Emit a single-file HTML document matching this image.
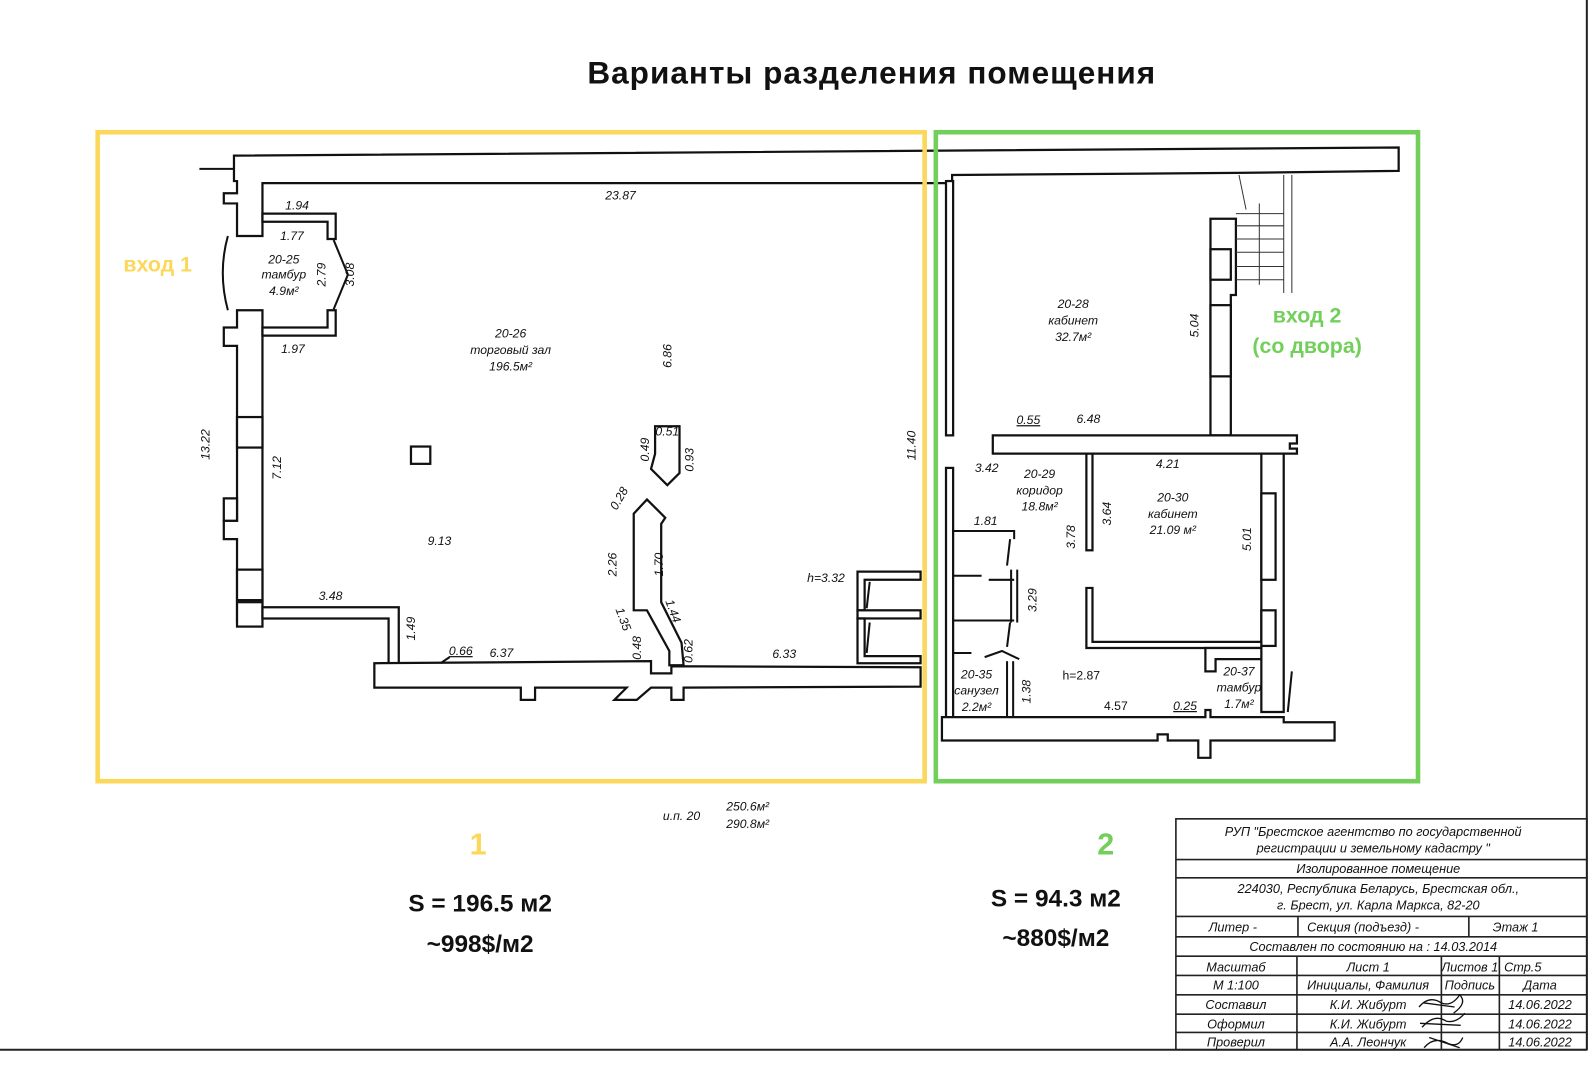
<!DOCTYPE html>
<html><head><meta charset="utf-8"><style>
html,body{margin:0;padding:0;background:#fff;}
svg{display:block;}
.d{font-family:"Liberation Sans",sans-serif;font-style:italic;font-size:12px;fill:#111;}
.w{fill:#fff;stroke:#111;stroke-width:2.2;stroke-linejoin:miter;}
.l{fill:none;stroke:#111;stroke-width:2;}
.t{font-family:"Liberation Sans",sans-serif;font-style:italic;font-size:12.5px;fill:#111;}
</style></head><body>
<svg width="1595" height="1065" viewBox="0 0 1568 1047" xmlns="http://www.w3.org/2000/svg">
<rect width="1568" height="1047" fill="#fff"/>
<line x1="0" y1="1032" x2="1560" y2="1032" stroke="#222" stroke-width="2"/>
<line x1="1560" y1="0" x2="1560" y2="1032" stroke="#222" stroke-width="2"/>

<text x="857" y="82" text-anchor="middle" font-family="Liberation Sans,sans-serif" font-weight="bold" font-size="31" letter-spacing="1" fill="#111">Варианты разделения помещения</text>

<polygon class="w" points="230,153 1375,145 1375,168 1215,170 936,172 936,180 258,180 258,232 233,232 233,200 220,200 220,190 233,190 233,178 230,178"/>
<line class="l" x1="196" y1="166" x2="230" y2="166"/>
<polygon class="w" points="233,305 258,305 258,608 233,608 233,612 233,530 220,530 220,512 233,512 233,340 220,340 220,322 233,322"/>
<polygon class="w" points="233,490 220,490 220,512 233,512"/>
<rect class="w" x="233" y="410" width="25" height="30"/>
<rect class="w" x="233" y="560" width="25" height="30"/>
<rect class="w" x="233" y="592" width="25" height="24"/>
<path class="l" d="M224,232 Q214,268 224,305" stroke-width="1.5"/>
<polygon class="w" points="258,210 330,210 330,235 322,235 322,218 258,218"/>
<polygon class="w" points="258,322 322,322 322,305 330,305 330,330 258,330"/>
<path class="l" d="M328,236 L342,270 L328,304" stroke-width="1.5"/>
<polygon class="w" points="258,597 392,597 392,652 382,652 382,608 258,608"/>
<polygon class="w" points="368,652 640,650 640,662 660,662 660,655 905,656 905,675 672,676 672,688 660,688 660,676 640,676 626,688 604,688 616,676 526,676 526,688 512,688 512,676 368,676"/>
<rect class="w" x="404" y="439" width="19" height="17"/>
<polygon class="w" points="644,419 668,419 668,465 656,477 640,461 644,446"/>
<polygon class="w" points="623,505 636,491 654,509 650,515 650,592 670,632 672,654 658,654 658,640 636,600 634,600 623,600"/>
<polygon class="w" points="843,562 905,562 905,570 850,570 850,600 843,600"/>
<rect class="w" x="843" y="600" width="62" height="8"/>
<polygon class="w" points="843,608 850,608 850,645 905,645 905,652 843,652"/>
<line class="l" x1="855" y1="572" x2="852" y2="598" stroke-width="1.3"/>
<line class="l" x1="855" y1="612" x2="852" y2="642" stroke-width="1.3"/>

<rect class="w" x="930" y="178" width="7" height="250"/>
<rect class="w" x="930" y="460" width="7" height="245"/>
<polygon class="w" points="1190,215 1215,215 1215,290 1210,290 1210,428 1190,428"/>
<rect class="w" x="1190" y="245" width="20" height="30"/>
<rect class="w" x="1190" y="300" width="20" height="70"/>
<g stroke="#333" stroke-width="1" fill="none">
<line x1="1215" y1="210" x2="1262" y2="210"/><line x1="1215" y1="222" x2="1262" y2="222"/>
<line x1="1215" y1="235" x2="1262" y2="235"/><line x1="1215" y1="248" x2="1262" y2="248"/>
<line x1="1215" y1="262" x2="1262" y2="262"/><line x1="1215" y1="275" x2="1262" y2="275"/>
<line x1="1262" y1="172" x2="1262" y2="288"/><line x1="1270" y1="172" x2="1270" y2="288"/>
<line x1="1238" y1="200" x2="1238" y2="280"/>
<line x1="1218" y1="172" x2="1225" y2="206"/>
</g>
<polygon class="w" points="976,428 1275,428 1275,436 1268,436 1268,441 1275,441 1275,446 976,446"/>
<polygon class="w" points="1240,446 1262,446 1262,700 1240,700"/>
<rect class="w" x="1240" y="485" width="14" height="85"/>
<rect class="w" x="1240" y="600" width="14" height="35"/>
<rect class="w" x="1068" y="446" width="6" height="95"/>
<polygon class="w" points="1068,578 1074,578 1074,631 1240,631 1240,637 1068,637"/>
<polygon class="w" points="1185,637 1240,637 1240,648 1195,648 1195,660 1185,660"/>
<g class="l" stroke-width="1.6">
<polyline points="936,522 997,522 997,530"/>
<polyline points="936,566 965,566"/><polyline points="972,570 997,570"/>
<polyline points="936,610 997,610"/>
<polyline points="936,642 955,642"/>
<line x1="1000" y1="560" x2="1000" y2="612"/><line x1="994" y1="560" x2="994" y2="612"/>
<line x1="993" y1="530" x2="990" y2="556"/>
<line x1="993" y1="612" x2="990" y2="636"/>
<polyline points="968,646 985,640 1002,648"/>
<line x1="990" y1="650" x2="990" y2="705"/><line x1="996" y1="650" x2="996" y2="705"/>
</g>
<polygon class="w" points="926,705 1185,705 1185,698 1190,698 1190,705 1262,705 1262,710 1312,710 1312,728 1190,728 1190,745 1178,745 1178,728 1148,728 1148,722 1138,722 1138,728 926,728"/>
<line class="l" x1="1270" y1="660" x2="1266" y2="700" stroke-width="1.5"/>

<text class="d" x="610" y="196" text-anchor="middle">23.87</text>
<text class="d" x="292" y="206" text-anchor="middle">1.94</text>
<text class="d" x="287" y="236" text-anchor="middle">1.77</text>
<text class="d" x="279" y="259" text-anchor="middle">20-25</text>
<text class="d" x="279" y="274" text-anchor="middle">тамбур</text>
<text class="d" x="279" y="290" text-anchor="middle">4.9м²</text>
<text class="d" transform="translate(320,270) rotate(-90)" text-anchor="middle">2.79</text>
<text class="d" transform="translate(348,270) rotate(-90)" text-anchor="middle">3.08</text>
<text class="d" x="288" y="347" text-anchor="middle">1.97</text>
<text class="d" x="502" y="332" text-anchor="middle">20-26</text>
<text class="d" x="502" y="348" text-anchor="middle">торговый зал</text>
<text class="d" x="502" y="364" text-anchor="middle">196.5м²</text>
<text class="d" transform="translate(660,350) rotate(-90)" text-anchor="middle">6.86</text>
<text class="d" transform="translate(206,437) rotate(-90)" text-anchor="middle">13.22</text>
<text class="d" transform="translate(276,460) rotate(-90)" text-anchor="middle">7.12</text>
<text class="d" x="656" y="428" text-anchor="middle">0.51</text>
<text class="d" transform="translate(638,442) rotate(-90)" text-anchor="middle">0.49</text>
<text class="d" transform="translate(682,452) rotate(-90)" text-anchor="middle">0.93</text>
<text class="d" transform="translate(612,492) rotate(-60)" text-anchor="middle">0.28</text>
<text class="d" x="432" y="536" text-anchor="middle">9.13</text>
<text class="d" transform="translate(606,555) rotate(-90)" text-anchor="middle">2.26</text>
<text class="d" transform="translate(652,555) rotate(-90)" text-anchor="middle">1.70</text>
<text class="d" transform="translate(609,610) rotate(70)" text-anchor="middle">1.35</text>
<text class="d" transform="translate(658,602) rotate(70)" text-anchor="middle">1.44</text>
<text class="d" transform="translate(630,637) rotate(-90)" text-anchor="middle">0.48</text>
<text class="d" transform="translate(681,640) rotate(-90)" text-anchor="middle">0.62</text>
<text class="d" x="325" y="590" text-anchor="middle">3.48</text>
<text class="d" transform="translate(408,618) rotate(-90)" text-anchor="middle">1.49</text>
<text class="d" x="453" y="644" text-anchor="middle" text-decoration="underline">0.66</text>
<line class="l" x1="433" y1="652" x2="442" y2="646" stroke-width="1"/>
<text class="d" x="493" y="646" text-anchor="middle">6.37</text>
<text class="d" x="771" y="647" text-anchor="middle">6.33</text>
<text class="d" x="812" y="572" text-anchor="middle">h=3.32</text>
<text class="d" transform="translate(900,438) rotate(-90)" text-anchor="middle">11.40</text>

<text class="d" x="1055" y="303" text-anchor="middle">20-28</text>
<text class="d" x="1055" y="319" text-anchor="middle">кабинет</text>
<text class="d" x="1055" y="335" text-anchor="middle">32.7м²</text>
<text class="d" transform="translate(1178,320) rotate(-90)" text-anchor="middle">5.04</text>
<text class="d" x="1011" y="417" text-anchor="middle" text-decoration="underline">0.55</text>
<text class="d" x="1070" y="416" text-anchor="middle">6.48</text>
<text class="d" x="970" y="464" text-anchor="middle">3.42</text>
<text class="d" x="1022" y="470" text-anchor="middle">20-29</text>
<text class="d" x="1022" y="486" text-anchor="middle">коридор</text>
<text class="d" x="1022" y="502" text-anchor="middle">18.8м²</text>
<text class="d" x="1148" y="460" text-anchor="middle">4.21</text>
<text class="d" x="1153" y="493" text-anchor="middle">20-30</text>
<text class="d" x="1153" y="509" text-anchor="middle">кабинет</text>
<text class="d" x="1153" y="525" text-anchor="middle" font-style="normal" font-size="11">21.09 м²</text>
<text class="d" transform="translate(1092,505) rotate(-90)" text-anchor="middle">3.64</text>
<text class="d" transform="translate(1057,528) rotate(-90)" text-anchor="middle">3.78</text>
<text class="d" transform="translate(1230,530) rotate(-90)" text-anchor="middle">5.01</text>
<text class="d" x="969" y="516" text-anchor="middle">1.81</text>
<text class="d" transform="translate(1019,590) rotate(-90)" text-anchor="middle">3.29</text>
<text class="d" x="960" y="667" text-anchor="middle">20-35</text>
<text class="d" x="960" y="683" text-anchor="middle">санузел</text>
<text class="d" x="960" y="699" text-anchor="middle">2.2м²</text>
<text class="d" transform="translate(1013,680) rotate(-90)" text-anchor="middle">1.38</text>
<text x="1063" y="668" text-anchor="middle" font-family="Liberation Sans,sans-serif" font-size="12" fill="#111">h=2.87</text>
<text x="1097" y="698" text-anchor="middle" font-family="Liberation Sans,sans-serif" font-size="12" fill="#111">4.57</text>
<text class="d" x="1165" y="698" text-anchor="middle" text-decoration="underline">0.25</text>
<text class="d" x="1218" y="664" text-anchor="middle">20-37</text>
<text class="d" x="1218" y="680" text-anchor="middle">тамбур</text>
<text class="d" x="1218" y="696" text-anchor="middle">1.7м²</text>

<text class="d" x="670" y="806" text-anchor="middle">и.п. 20</text>
<text class="d" x="735" y="797" text-anchor="middle">250.6м²</text>
<text class="d" x="735" y="814" text-anchor="middle">290.8м²</text>

<rect x="96" y="130" width="813" height="638" fill="none" stroke="#fbd85a" stroke-width="4.5"/>
<rect x="920" y="130" width="474" height="638" fill="none" stroke="#72cf5a" stroke-width="4.5"/>

<g font-family="Liberation Sans,sans-serif" font-weight="bold">
<text x="155" y="267" text-anchor="middle" font-size="21" fill="#fbd85a">вход 1</text>
<text x="1285" y="317" text-anchor="middle" font-size="21" fill="#72cf5a">вход 2</text>
<text x="1285" y="347" text-anchor="middle" font-size="21" fill="#72cf5a">(со двора)</text>
<text x="470" y="840" text-anchor="middle" font-size="30" fill="#fbd85a">1</text>
<text x="1087" y="840" text-anchor="middle" font-size="30" fill="#72cf5a">2</text>
<text x="472" y="896" text-anchor="middle" font-size="24" fill="#111">S = 196.5 м2</text>
<text x="472" y="936" text-anchor="middle" font-size="24" fill="#111">~998$/м2</text>
<text x="1038" y="891" text-anchor="middle" font-size="24" fill="#111">S = 94.3 м2</text>
<text x="1038" y="930" text-anchor="middle" font-size="24" fill="#111">~880$/м2</text>
</g>

<g stroke="#222" stroke-width="1.6" fill="none">
<rect x="1156" y="805" width="404" height="227"/>
<line x1="1156" y1="845" x2="1560" y2="845"/>
<line x1="1156" y1="863" x2="1560" y2="863"/>
<line x1="1156" y1="901" x2="1560" y2="901"/>
<line x1="1156" y1="921" x2="1560" y2="921"/>
<line x1="1156" y1="940" x2="1560" y2="940"/>
<line x1="1156" y1="959" x2="1560" y2="959"/>
<line x1="1156" y1="978" x2="1560" y2="978"/>
<line x1="1156" y1="997" x2="1560" y2="997"/>
<line x1="1156" y1="1015" x2="1560" y2="1015"/>
<line x1="1276" y1="901" x2="1276" y2="921"/>
<line x1="1444" y1="901" x2="1444" y2="921"/>
<line x1="1275" y1="940" x2="1275" y2="1032"/>
<line x1="1417" y1="940" x2="1417" y2="1032"/>
<line x1="1474" y1="940" x2="1474" y2="1032"/>
</g>
<text class="t" x="1350" y="822" text-anchor="middle">РУП "Брестское агентство по государственной</text>
<text class="t" x="1350" y="838" text-anchor="middle">регистрации и земельному кадастру "</text>
<text class="t" x="1355" y="858" text-anchor="middle">Изолированное помещение</text>
<text class="t" x="1355" y="878" text-anchor="middle">224030, Республика Беларусь, Брестская обл.,</text>
<text class="t" x="1355" y="894" text-anchor="middle">г. Брест, ул. Карла Маркса, 82-20</text>
<text class="t" x="1212" y="916" text-anchor="middle" font-size="11.5">Литер -</text>
<text class="t" x="1340" y="916" text-anchor="middle" font-size="11.5" fill="#555">Секция (подъезд) -</text>
<text class="t" x="1490" y="916" text-anchor="middle" font-size="11.5">Этаж 1</text>
<text class="t" x="1350" y="935" text-anchor="middle" font-size="11.5" fill="#555">Составлен по состоянию на : 14.03.2014</text>
<text class="t" x="1215" y="955" text-anchor="middle" font-size="11.5" fill="#555">Масштаб</text>
<text class="t" x="1345" y="955" text-anchor="middle" font-size="11.5" fill="#555">Лист 1</text>
<text class="t" x="1445" y="955" text-anchor="middle" font-size="11" fill="#555">Листов 1</text>
<text class="t" x="1497" y="955" text-anchor="middle" font-size="11.5">Стр.5</text>
<text class="t" x="1215" y="973" text-anchor="middle" font-size="11.5">М 1:100</text>
<text class="t" x="1345" y="973" text-anchor="middle" font-size="11.5">Инициалы, Фамилия</text>
<text class="t" x="1445" y="973" text-anchor="middle" font-size="11.5">Подпись</text>
<text class="t" x="1514" y="973" text-anchor="middle" font-size="11.5">Дата</text>
<text class="t" x="1215" y="992" text-anchor="middle" font-size="11.5">Составил</text>
<text class="t" x="1345" y="992" text-anchor="middle" font-size="11.5">К.И. Жибурт</text>
<text class="t" x="1514" y="992" text-anchor="middle" font-size="11.5">14.06.2022</text>
<text class="t" x="1215" y="1011" text-anchor="middle" font-size="11.5">Оформил</text>
<text class="t" x="1345" y="1011" text-anchor="middle" font-size="11.5">К.И. Жибурт</text>
<text class="t" x="1514" y="1011" text-anchor="middle" font-size="11.5">14.06.2022</text>
<text class="t" x="1215" y="1029" text-anchor="middle" font-size="11.5">Проверил</text>
<text class="t" x="1345" y="1029" text-anchor="middle" font-size="11.5">А.А. Леончук</text>
<text class="t" x="1514" y="1029" text-anchor="middle" font-size="11.5">14.06.2022</text>
<g stroke="#111" stroke-width="1.3" fill="none">
<path d="M1395,990 q10,-12 22,-4 q10,4 18,-8 q8,8 -6,18 M1400,986 l30,4"/>
<path d="M1398,1010 q12,-14 24,-6 q10,2 18,-8 M1396,1006 l40,2"/>
<path d="M1400,1030 q10,-12 24,-4 q10,4 14,-6 M1405,1020 l30,10"/>
</g>
</svg>
</body></html>
